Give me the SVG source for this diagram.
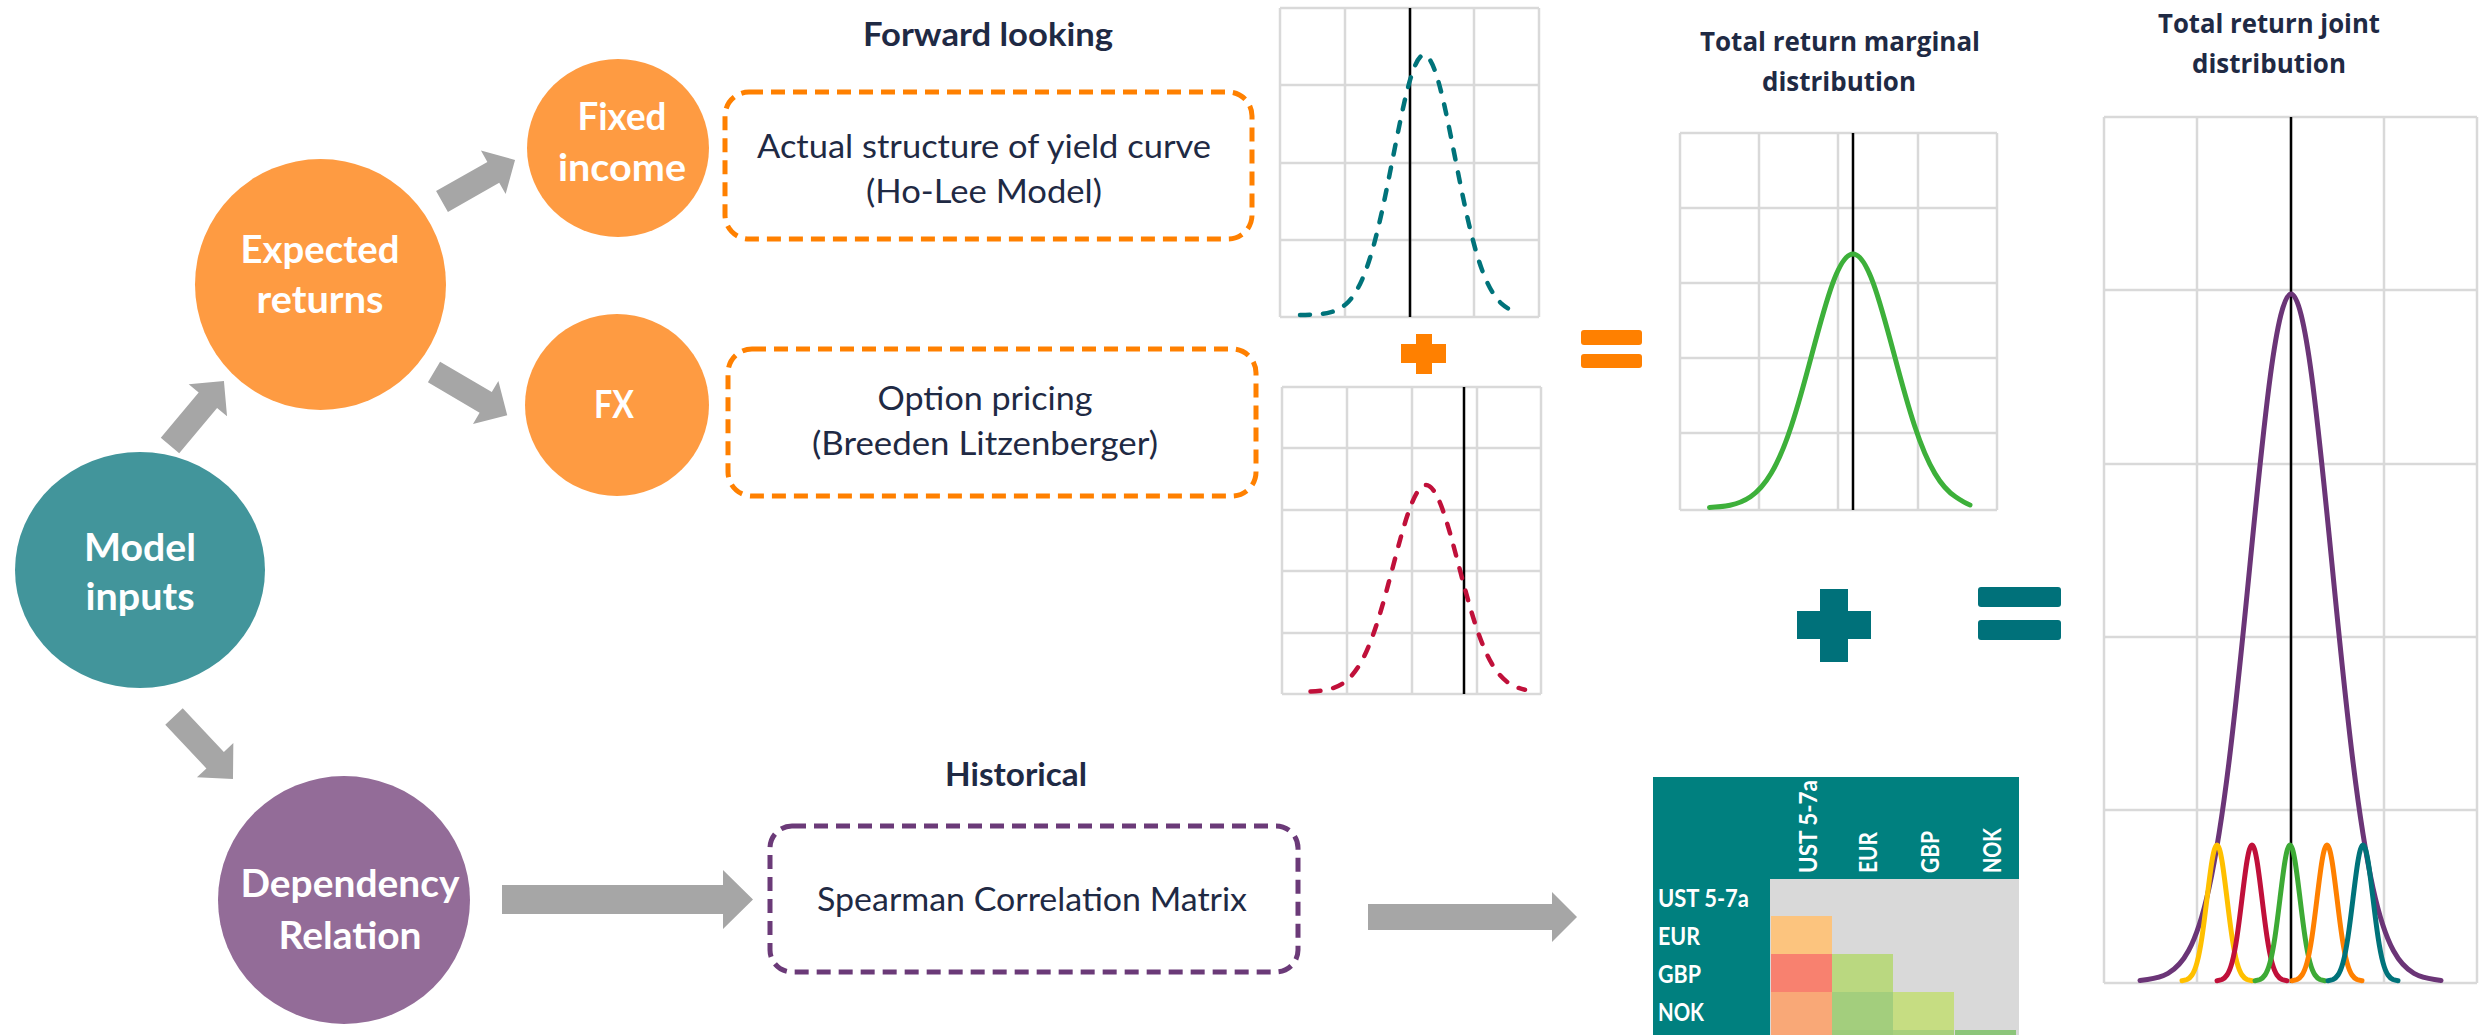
<svg xmlns="http://www.w3.org/2000/svg" width="2488" height="1035" viewBox="0 0 2488 1035">
<style>
.nt{font-family:Lato,'Open Sans',sans-serif;font-weight:700;fill:#fff;font-size:38px;text-anchor:middle}
.box{fill:none;stroke-width:5;stroke-dasharray:14 8}
.bt{font-family:Lato,'Open Sans',sans-serif;font-size:32.5px;fill:#1F2A44;text-anchor:middle}
.hd{font-family:Lato,'Open Sans',sans-serif;font-weight:700;font-size:32.5px;fill:#1F2A44}
.hd2{font-family:'Open Sans','DejaVu Sans',sans-serif;font-weight:700;font-size:27px;fill:#1F2A44;text-anchor:middle}
.arrow{fill:#A6A6A6}
.grid{stroke:#D9D9D9;stroke-width:2.5;fill:none}
.zero{stroke:#000;stroke-width:2.5}
.dash{fill:none;stroke-width:4.5;stroke-dasharray:10 13;stroke-linecap:round}
.solid{fill:none;stroke-width:5;stroke-linecap:round;stroke-linejoin:round}
.mx{font-family:Lato,'Open Sans',sans-serif;font-weight:700;font-size:24px;fill:#fff}
</style>
<defs>
<path id="spike" d="M-35,-0.3 C-33.33,-0.5 -31.67,-0.8 -30,-1.5 C-28.33,-2.3 -26.67,-3.5 -25,-6 C-23.33,-8.5 -21.67,-12.3 -20,-18.4 C-18.33,-24.5 -16.67,-33.1 -15,-44.2 C-13.33,-55.2 -11.67,-68.7 -10,-82.5 C-8.33,-96.2 -6.67,-110 -5,-120 C-3.33,-130 -1.67,-136 0,-136 C1.67,-136 3.33,-130 5,-120 C6.67,-110 8.33,-96.2 10,-82.5 C11.67,-68.7 13.33,-55.2 15,-44.2 C16.67,-33.1 18.33,-24.5 20,-18.4 C21.67,-12.3 23.33,-8.5 25,-6 C26.67,-3.5 28.33,-2.3 30,-1.5 C31.67,-0.8 33.33,-0.5 35,-0.3"/>
</defs>
<rect width="2488" height="1035" fill="#fff"/>

<g id="connectors">
<polygon class="arrow" transform="translate(170,445.5) rotate(-50.06)" points="0,-12 59,-12 59,-25 84,0 59,25 59,12 0,12"/>
<polygon class="arrow" transform="translate(442,201.5) rotate(-29.6)" points="0,-12 59,-12 59,-25 84,0 59,25 59,12 0,12"/>
<polygon class="arrow" transform="translate(434,372) rotate(30.5)" points="0,-12 60,-12 60,-25 85,0 60,25 60,12 0,12"/>
<polygon class="arrow" transform="translate(174,716.5) rotate(46.7)" points="0,-12 60,-12 60,-25 86,0 60,25 60,12 0,12"/>
<polygon class="arrow" points="502,885 723,885 723,870 753,899.5 723,929 723,914 502,914"/>
<polygon class="arrow" points="1368,904 1552,904 1552,892 1577,917 1552,942 1552,930 1368,930"/>
</g>

<g id="node-model-inputs">
<ellipse cx="140" cy="570" rx="125" ry="118" fill="#42959B"/>
<text class="nt" x="140" y="561" textLength="112" lengthAdjust="spacingAndGlyphs">Model</text>
<text class="nt" x="140" y="610" textLength="109" lengthAdjust="spacingAndGlyphs">inputs</text>
</g>
<g id="node-expected-returns">
<ellipse cx="320.5" cy="284.5" rx="125.5" ry="125.5" fill="#FE9B42"/>
<text class="nt" x="320" y="263" textLength="159" lengthAdjust="spacingAndGlyphs">Expected</text>
<text class="nt" x="320" y="313" textLength="127" lengthAdjust="spacingAndGlyphs">returns</text>
</g>
<g id="node-fixed-income">
<ellipse cx="618" cy="148" rx="91" ry="89" fill="#FE9B42"/>
<text class="nt" x="622" y="130" textLength="89" lengthAdjust="spacingAndGlyphs">Fixed</text>
<text class="nt" x="622" y="181" textLength="128" lengthAdjust="spacingAndGlyphs">income</text>
</g>
<g id="node-fx">
<ellipse cx="617" cy="405" rx="92" ry="91" fill="#FE9B42"/>
<text class="nt" x="614" y="418" textLength="40" lengthAdjust="spacingAndGlyphs">FX</text>
</g>
<g id="node-dependency">
<ellipse cx="344" cy="900" rx="126" ry="124" fill="#936C98"/>
<text class="nt" x="350" y="897" textLength="219" lengthAdjust="spacingAndGlyphs">Dependency</text>
<text class="nt" x="350" y="949" textLength="143" lengthAdjust="spacingAndGlyphs">Relation</text>
</g>

<g id="heading-forward">
<text class="hd" x="988" y="46" text-anchor="middle" textLength="250" lengthAdjust="spacingAndGlyphs">Forward looking</text>
</g>
<g id="node-yield-curve">
<rect class="box" x="725" y="92" width="527" height="147" rx="24" stroke="#FF8000"/>
<text class="bt" x="984" y="158" textLength="454" lengthAdjust="spacingAndGlyphs">Actual structure of yield curve</text>
<text class="bt" x="984" y="203" textLength="236" lengthAdjust="spacingAndGlyphs">(Ho-Lee Model)</text>
</g>
<g id="node-option-pricing">
<rect class="box" x="728" y="349" width="528" height="147" rx="24" stroke="#FF8000"/>
<text class="bt" x="985" y="410" textLength="215" lengthAdjust="spacingAndGlyphs">Option pricing</text>
<text class="bt" x="985" y="455" textLength="346" lengthAdjust="spacingAndGlyphs">(Breeden Litzenberger)</text>
</g>
<g id="heading-historical">
<text class="hd" x="945" y="786" textLength="142" lengthAdjust="spacingAndGlyphs">Historical</text>
</g>
<g id="node-spearman">
<rect class="box" x="770" y="826" width="528" height="146" rx="22" stroke="#6B3A78"/>
<text class="bt" x="1032" y="911" textLength="430" lengthAdjust="spacingAndGlyphs">Spearman Correlation Matrix</text>
</g>

<g id="chart-fixed-income">
<path class="grid" d="M1280,8V317M1345,8V317M1410,8V317M1474,8V317M1539,8V317M1280,8H1539M1280,85H1539M1280,163H1539M1280,240H1539M1280,317H1539"/>
<line class="zero" x1="1410" y1="8" x2="1410" y2="317"/>
<path class="dash" stroke="#00737A" d="M1300,314.9 C1305.2,314.9 1310.3,314.8 1315.5,314.4 C1320.7,314.1 1325.8,313.5 1331,312.1 C1336.2,310.7 1341.3,308.3 1346.5,303.6 C1351.7,298.8 1356.8,291.5 1362,279.8 C1367.2,268.1 1372.3,251.7 1377.5,230.6 C1382.7,209.5 1387.8,183.6 1393,157.3 C1398.2,131 1403.3,104.7 1408.5,85.5 C1413.7,66.4 1418.8,55 1424,55 C1429.2,55 1434.3,66.4 1439.5,85.5 C1444.7,104.7 1449.8,131 1455,157.3 C1460.2,183.6 1465.3,209.5 1470.5,230.6 C1475.7,251.7 1480.8,268.1 1486,279.8 C1491.2,291.5 1496.3,298.8 1501.5,303.6 C1506.7,308.3 1511.8,310.7 1517,312.1"/>
</g>
<g id="chart-fx">
<path class="grid" d="M1282,387V694M1347,387V694M1412,387V694M1477,387V694M1541,387V694M1282,387H1541M1282,448H1541M1282,510H1541M1282,571H1541M1282,633H1541M1282,694H1541"/>
<line class="zero" x1="1464" y1="387" x2="1464" y2="694"/>
<path class="dash" stroke="#C0103A" d="M1310.5,691.5 C1316,691.3 1321.5,690.8 1327,689.7 C1332.5,688.5 1338,686.7 1343.5,682.9 C1349,679.1 1354.5,673.3 1360,664 C1365.5,654.7 1371,641.6 1376.5,624.8 C1382,608 1387.5,587.4 1393,566.5 C1398.5,545.5 1404,524.5 1409.5,509.3 C1415,494.1 1420.5,485 1426,485 C1431.5,485 1437,494.1 1442.5,509.3 C1448,524.5 1453.5,545.5 1459,566.5 C1464.5,587.4 1470,608 1475.5,624.8 C1481,641.6 1486.5,654.7 1492,664 C1497.5,673.3 1503,679.1 1508.5,682.9 C1514,686.7 1519.5,688.5 1525,689.7"/>
</g>

<g id="operators">
<rect x="1416" y="334" width="16" height="40" fill="#FF8000"/>
<rect x="1401" y="344" width="45" height="19" fill="#FF8000"/>
<rect x="1581" y="330" width="61" height="15" rx="3" fill="#FF8000"/>
<rect x="1581" y="354" width="61" height="14" rx="3" fill="#FF8000"/>
<rect x="1820" y="589" width="28" height="73" fill="#00717A"/>
<rect x="1797" y="611" width="74" height="28" fill="#00717A"/>
<rect x="1978" y="587" width="83" height="20" rx="3" fill="#00717A"/>
<rect x="1978" y="620" width="83" height="20" rx="3" fill="#00717A"/>
</g>

<g id="heading-marginal">
<text class="hd2" x="1840" y="51" textLength="280" lengthAdjust="spacingAndGlyphs">Total return marginal</text>
<text class="hd2" x="1839" y="91" textLength="154" lengthAdjust="spacingAndGlyphs">distribution</text>
</g>
<g id="chart-marginal">
<path class="grid" d="M1680,133V510M1759,133V510M1838,133V510M1918,133V510M1997,133V510M1680,133H1997M1680,208H1997M1680,283H1997M1680,358H1997M1680,433H1997M1680,510H1997"/>
<line class="zero" x1="1853" y1="133" x2="1853" y2="510"/>
<path class="solid" stroke="#3DB03A" stroke-width="6" d="M1709.5,507.4 C1716.3,507.1 1723.2,506.6 1730,505.2 C1736.8,503.8 1743.7,501.5 1750.5,496.8 C1757.3,492.2 1764.2,485.1 1771,473.6 C1777.8,462.2 1784.7,446.2 1791.5,425.5 C1798.3,404.9 1805.2,379.6 1812,353.9 C1818.8,328.3 1825.7,302.5 1832.5,283.8 C1839.3,265.2 1846.2,254 1853,254 C1859.8,254 1866.7,265.2 1873.5,283.8 C1880.3,302.5 1887.2,328.3 1894,353.9 C1900.8,379.6 1907.7,404.9 1914.5,425.5 C1921.3,446.2 1928.2,462.2 1935,473.6 C1941.8,485.1 1948.7,492.2 1955.5,496.8 C1962.3,501.5 1967,503.8 1970,505"/>
</g>

<g id="heading-joint">
<text class="hd2" x="2269" y="33" textLength="222" lengthAdjust="spacingAndGlyphs">Total return joint</text>
<text class="hd2" x="2269" y="73" textLength="154" lengthAdjust="spacingAndGlyphs">distribution</text>
</g>
<g id="chart-joint">
<path class="grid" d="M2104,117V983M2197,117V983M2291,117V983M2384,117V983M2477,117V983M2104,117H2477M2104,290H2477M2104,464H2477M2104,637H2477M2104,810H2477M2104,983H2477"/>
<line class="zero" x1="2291" y1="117" x2="2291" y2="983"/>
<path class="solid" stroke="#6B3577" d="M2140,980.5 L2147.5,979.5 C2154.3,978.6 2161.2,977.2 2168,973.4 C2174.8,969.5 2181.7,963.4 2188.5,950.8 C2195.3,938.3 2202.2,919 2209,888 C2215.8,857.1 2222.7,813.7 2229.5,757.9 C2236.3,702.1 2243.2,633.8 2250,564.3 C2256.8,494.9 2263.7,425.2 2270.5,374.7 C2277.3,324.2 2284.2,294 2291,294 C2297.8,294 2304.7,324.2 2311.5,374.7 C2318.3,425.2 2325.2,494.9 2332,564.3 C2338.8,633.8 2345.7,702.1 2352.5,757.9 C2359.3,813.7 2366.2,857.1 2373,888 C2379.8,919 2386.7,938.3 2393.5,950.8 C2400.3,963.4 2407.2,969.5 2414,973.4 C2420.8,977.2 2427.7,978.6 2434.5,979.5 L2441,980.5"/>
<use href="#spike" x="2217" y="981" class="solid" stroke="#FFC000"/>
<use href="#spike" x="2252" y="981" class="solid" stroke="#C0103A"/>
<use href="#spike" x="2290" y="981" class="solid" stroke="#3DAA35"/>
<use href="#spike" x="2327" y="981" class="solid" stroke="#FF8000"/>
<use href="#spike" x="2363" y="981" class="solid" stroke="#00737A"/>
</g>

<g id="correlation-matrix">
<rect x="1653" y="777" width="366" height="258" fill="#00807F"/>
<rect x="1770" y="879" width="249" height="156" fill="#D9D9D9"/>
<rect x="1771" y="916" width="61" height="38" fill="#FCC47E"/>
<rect x="1771" y="954" width="61" height="38" fill="#F8816F"/>
<rect x="1832" y="954" width="61" height="38" fill="#BAD880"/>
<rect x="1771" y="992" width="61" height="38" fill="#F9A877"/>
<rect x="1832" y="992" width="61" height="38" fill="#A3CE7D"/>
<rect x="1893" y="992" width="61" height="38" fill="#C6DD82"/>
<rect x="1771" y="1030" width="61" height="5" fill="#F9A676"/>
<rect x="1832" y="1030" width="61" height="5" fill="#9DCB7B"/>
<rect x="1893" y="1030" width="61" height="5" fill="#A8D07D"/>
<rect x="1955" y="1030" width="61" height="5" fill="#8CC57A"/>
<text class="mx" x="1658" y="907" textLength="91" lengthAdjust="spacingAndGlyphs">UST 5-7a</text>
<text class="mx" x="1658" y="945" textLength="42" lengthAdjust="spacingAndGlyphs">EUR</text>
<text class="mx" x="1658" y="983" textLength="43" lengthAdjust="spacingAndGlyphs">GBP</text>
<text class="mx" x="1658" y="1021" textLength="46" lengthAdjust="spacingAndGlyphs">NOK</text>
<text class="mx" transform="translate(1817,873) rotate(-90)" textLength="93" lengthAdjust="spacingAndGlyphs">UST 5-7a</text>
<text class="mx" transform="translate(1877,873) rotate(-90)" textLength="41" lengthAdjust="spacingAndGlyphs">EUR</text>
<text class="mx" transform="translate(1939,873) rotate(-90)" textLength="42" lengthAdjust="spacingAndGlyphs">GBP</text>
<text class="mx" transform="translate(2001,873) rotate(-90)" textLength="45" lengthAdjust="spacingAndGlyphs">NOK</text>
</g>
</svg>
